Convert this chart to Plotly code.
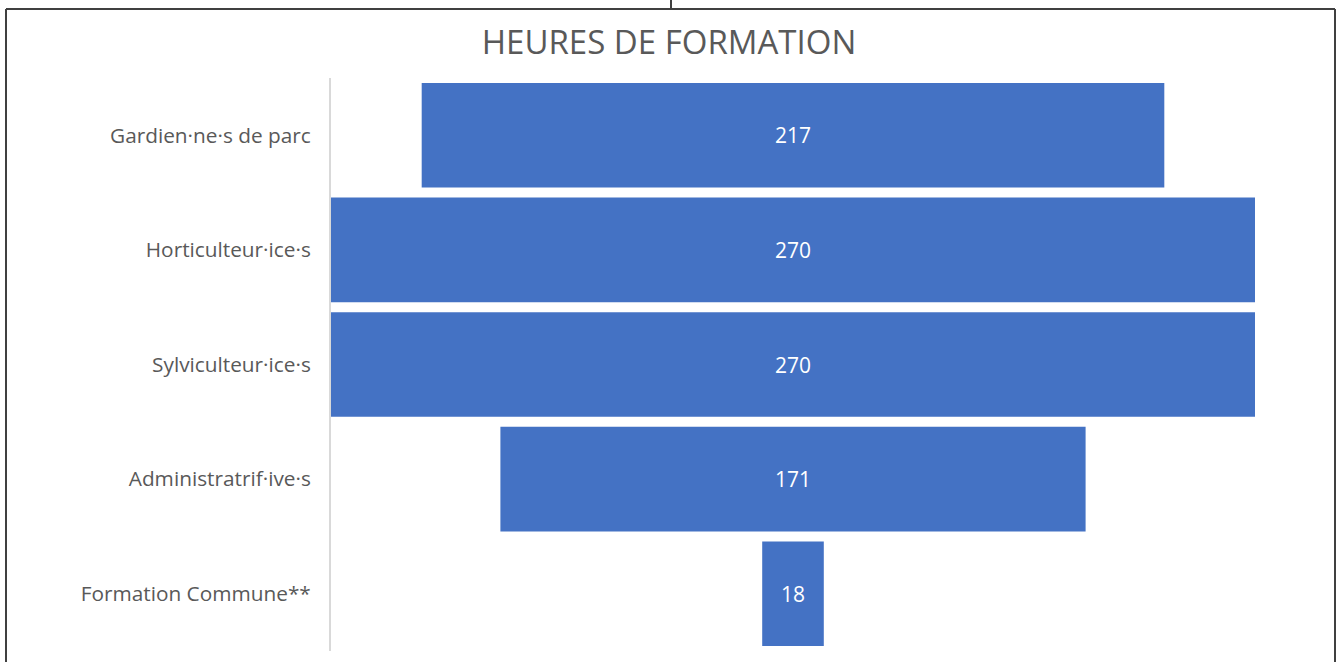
import plotly.graph_objects as go

categories = ["Gardien·ne·s de parc", "Horticulteur·ice·s", "Sylviculteur·ice·s",
              "Administratrif·ive·s", "Formation Commune**"]
values = [217, 270, 270, 171, 18]
title = "HEURES DE FORMATION"

W, H = 1338, 662
L, R, T, B = 331, 83, 78, 11
pw, ph = W - L - R, H - T - B

def px(x):
    return (x - L) / pw

def py(y):
    return (H - B - y) / ph

fig = go.Figure(go.Funnel(
    y=categories,
    x=values,
    textinfo="value",
    textposition="inside",
    insidetextfont=dict(color="white", size=21, family="Open Sans"),
    marker=dict(color="#4472C4", line=dict(width=0)),
    connector=dict(visible=False),
))

half = max(values) / 2
fig.update_layout(
    width=W, height=H,
    margin=dict(l=L, r=R, t=T, b=B),
    paper_bgcolor="white", plot_bgcolor="white",
    funnelgap=0.087,
    showlegend=False,
    title=dict(text=title, x=669 / W, xref="container", xanchor="center",
               y=1 - 42 / H, yref="container", yanchor="middle",
               font=dict(family="Open Sans", size=33, color="#595959")),
    xaxis=dict(visible=False, range=[-half, half], fixedrange=True),
    yaxis=dict(categoryorder="array", categoryarray=categories,
               autorange="reversed", showline=True, linecolor="#D9D9D9",
               linewidth=2, ticks="", ticklabelstandoff=14,
               tickfont=dict(family="Open Sans", size=20.8, color="#595959"),
               showgrid=False),
    shapes=[
        dict(type="line", xref="paper", yref="paper", x0=px(6), x1=px(1335),
             y0=py(9), y1=py(9), line=dict(color="#404040", width=2)),
        dict(type="line", xref="paper", yref="paper", x0=px(6), x1=px(6),
             y0=py(9), y1=py(662), line=dict(color="#404040", width=2)),
        dict(type="line", xref="paper", yref="paper", x0=px(1335), x1=px(1335),
             y0=py(9), y1=py(662), line=dict(color="#404040", width=2)),
        dict(type="line", xref="paper", yref="paper", x0=px(671), x1=px(671),
             y0=py(0), y1=py(9), line=dict(color="#404040", width=2)),
    ],
)

fig.write_html("out.html", config={"displayModeBar": False},
               post_script="document.body.style.margin='0';document.body.style.overflow='hidden';")
